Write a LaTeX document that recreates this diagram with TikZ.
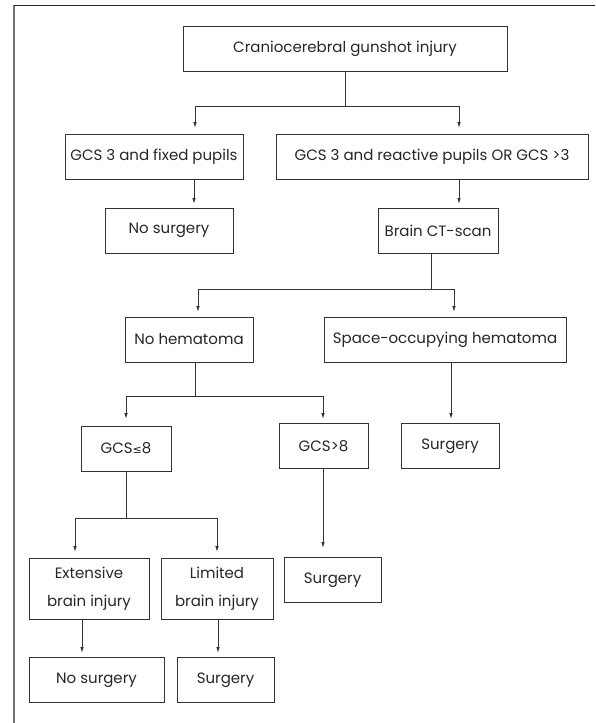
\documentclass[tikz,border=0pt]{standalone}
\usepackage{fontspec}
\setmainfont{Poppins}
\newfontfamily\leqfont{DejaVu Sans}
\usetikzlibrary{arrows.meta}
\tikzset{
	box/.style={draw=black!80, line width=0.9pt, minimum height=45pt, inner sep=0pt, align=center, text=black!85, font=\fontsize{15}{18}\selectfont},
	wire/.style={draw=black!80, line width=0.9pt},
	arr/.style={wire, -{Latex[length=6pt,width=3.5pt]}}
}
\begin{document}
\begin{tikzpicture}[x=1pt, y=-1pt]
		\useasboundingbox (0,0) rectangle (595,723);
		\draw[black!55, line width=1.4pt] (14,723) -- (14,5);
		\draw[black!85, line width=1pt] (14,5) -- (595,5);
		\node[box, minimum width=324pt] (injury) at (345,49) {Craniocerebral gunshot injury};
		\node[box, minimum width=178pt] (fixed) at (154,157) {GCS 3 and fixed pupils};
		\node[box, minimum width=312pt] (reactive) at (432,157) {GCS 3 and reactive pupils OR GCS >3};
		\node[box, minimum width=128pt] (nosurgA) at (169,230.5) {No surgery};
		\node[box, minimum width=120pt] (ctscan) at (438,230.5) {Brain CT-scan};
		\node[box, minimum width=128pt] (nohem) at (189,339.5) {No hematoma};
		\node[box, minimum width=242pt] (hem) at (445,339.5) {Space-occupying hematoma};
		\node[box, minimum width=90pt] (gcslow) at (126,448.5) {GCS{\leqfont\fontsize{11}{11}\selectfont ≤}8};
		\node[box, minimum width=89pt] (gcshigh) at (323.5,446) {GCS>8};
		\node[box, minimum width=98pt] (surgA) at (450,446) {Surgery};
		\node[box, minimum width=120pt, minimum height=61pt] (extensive) at (89,588.5) {Extensive\\[10pt]brain injury};
		\node[box, minimum width=112pt, minimum height=61pt] (limited) at (217,588.5) {Limited\\[10pt]brain injury};
		\node[box, minimum width=97pt] (surgB) at (332.5,580) {Surgery};
		\node[box, minimum width=135pt] (nosurgB) at (96.5,680) {No surgery};
		\node[box, minimum width=97pt] (surgC) at (225.5,680) {Surgery};
		\coordinate (j1) at (345,106);
		\coordinate (j2) at (431,289);
		\coordinate (j3) at (195,396);
		\coordinate (j4) at (126,518);
		\coordinate (t1) at (195,128);
		\coordinate (t2) at (459,128);
		\coordinate (t3) at (194,204);
		\coordinate (t4) at (459,204);
		\coordinate (t5) at (198,312);
		\coordinate (t6) at (454,312);
		\coordinate (t7) at (126,419);
		\coordinate (t8) at (323,419);
		\coordinate (t9) at (451,419);
		\coordinate (t10) at (75,552);
		\coordinate (t11) at (217,552);
		\coordinate (t12) at (323,548);
		\coordinate (t13) at (82,653);
		\coordinate (t14) at (218,653);
		\draw[wire] (injury.south -| j1) -- (j1);
		\draw[wire] (ctscan.south -| j2) -- (j2);
		\draw[wire] (nohem.south -| j3) -- (j3);
		\draw[wire] (gcslow.south -| j4) -- (j4);
		\foreach \j\t in {j1/t1,j1/t2,j2/t5,j2/t6,j3/t7,j3/t8,j4/t10,j4/t11}{
			\draw[arr] (\j) -| (\t);
		}
		\foreach \n\t in {fixed/t3,reactive/t4,hem/t9,gcshigh/t12,extensive/t13,limited/t14}{
			\draw[arr] (\n.south -| \t) -- (\t);
		}
\end{tikzpicture}
\end{document}
